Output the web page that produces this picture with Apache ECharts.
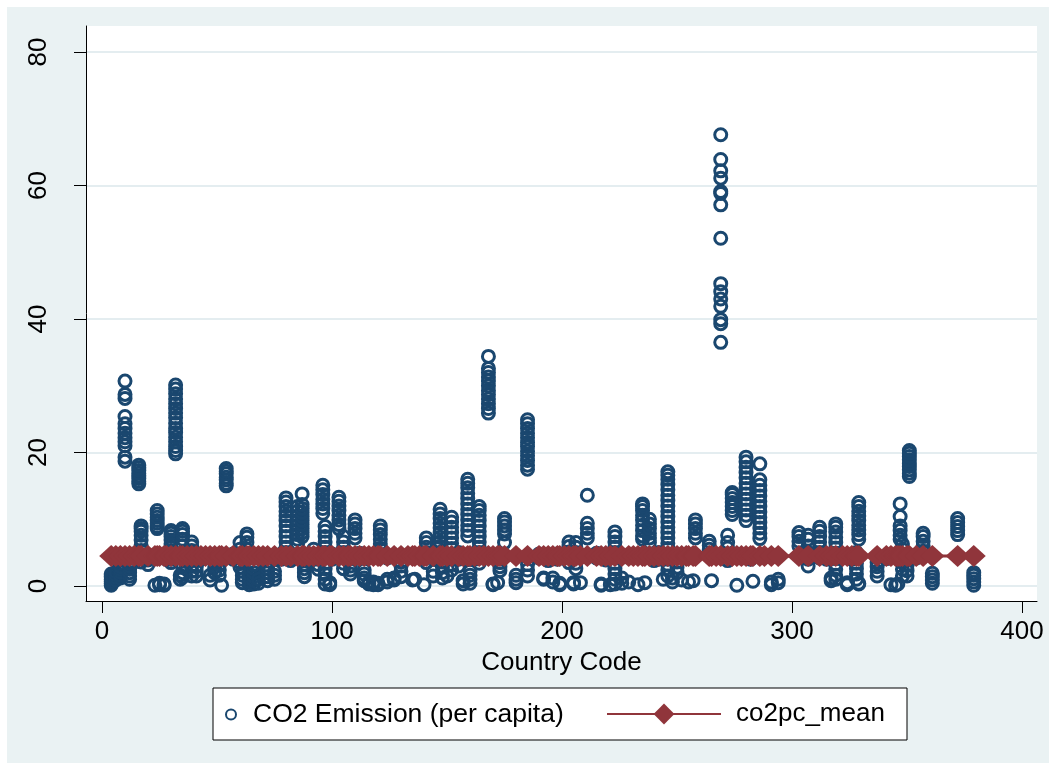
<!DOCTYPE html>
<html>
<head>
<meta charset="utf-8">
<script src="https://cdn.jsdelivr.net/npm/echarts@6/dist/echarts.min.js"></script>
<style>
  html, body { margin: 0; padding: 0; background: #ffffff; }
  #chart {
    width: 1056px; height: 770px;
    background: #EAF2F3;
    box-shadow: inset 0 0 0 7px #ffffff;
  }
</style>
</head>
<body>
<div id="chart"></div>
<script>
// Country codes (x) and the yearly CO2 emission per capita observed for each (y)
const countryCodes = [
  4, 6, 8, 10, 12, 14, 16, 17, 20, 23, 24, 25, 27, 28, 30, 32, 34, 35, 37, 39,
  41, 43, 45, 47, 49, 51, 52, 54, 57, 60, 61, 63, 64, 66, 68, 70, 72, 75, 78, 80,
  82, 85, 87, 88, 90, 92, 94, 96, 97, 99, 100, 103, 105, 107, 108, 110, 112, 114, 116, 118,
  120, 121, 124, 127, 130, 133, 135, 136, 138, 140, 141, 144, 147, 148, 150, 152, 155, 157, 159, 160,
  162, 164, 166, 168, 170, 172, 173, 175, 180, 185, 190, 192, 194, 196, 198, 199, 201, 203, 205, 206,
  208, 211, 215, 217, 219, 221, 223, 226, 229, 231, 233, 235, 236, 238, 240, 242, 244, 246, 248, 250,
  252, 254, 255, 257, 258, 264, 265, 267, 269, 272, 274, 276, 278, 280, 282, 283, 286, 288, 291, 294,
  303, 307, 312, 315, 317, 319, 322, 324, 326, 328, 329, 337, 341, 343, 345, 346, 347, 348, 350, 351,
  354, 357, 361, 372, 379
];

const co2PerCapita = [
  [0.1, 0.4, 0.7, 1.0, 1.4, 1.8],
  [0.9, 1.3, 1.7, 2.1],
  [1.2, 1.6, 2.1, 2.5, 2.9],
  [18.7, 19.3, 21.0, 21.6, 22.2, 22.9, 23.6, 24.3, 25.4, 28.1, 28.7, 30.7],
  [1.0, 1.5, 2.0, 2.5, 3.0, 3.4],
  [3.6, 4.2, 4.8],
  [15.3, 15.7, 16.1, 16.5, 16.9, 17.3, 17.7, 18.1],
  [3.6, 4.4, 5.3, 6.1, 6.9, 7.6, 8.2, 8.6, 9.0],
  [3.2, 3.9, 4.6],
  [0.1],
  [8.6, 8.9, 9.4, 9.8, 10.3, 10.8, 11.3],
  [0.2, 0.4],
  [0.1, 0.3],
  [4.0, 4.8],
  [3.5, 4.0, 4.6, 5.2, 5.8, 6.3, 6.9, 7.4, 7.9, 8.3],
  [19.8, 20.3, 20.9, 21.6, 22.3, 23.0, 23.6, 24.4, 25.2, 25.9, 26.6, 27.3, 28.0, 28.8, 29.5, 30.1],
  [1.0, 1.6],
  [1.3, 2.0, 3.0, 4.0, 5.0, 6.0, 7.0, 7.7, 8.2, 8.6],
  [4.2, 4.9],
  [1.5, 2.2, 3.0, 3.8, 4.6, 5.3, 6.0, 6.6],
  [1.5, 2.2, 2.9],
  [4.0, 4.6],
  [4.3],
  [0.9, 1.6],
  [2.0, 2.8, 3.6],
  [1.6, 2.4, 3.2, 4.0],
  [0.1],
  [15.0, 15.4, 15.9, 16.3, 16.8, 17.2, 17.6],
  [4.0, 4.8],
  [2.8, 3.5, 4.5, 5.5, 6.5],
  [0.5, 1.0, 1.6, 2.2],
  [5.5, 6.5, 7.3, 7.8],
  [0.2, 0.6, 1.2, 1.8],
  [0.3, 0.8, 1.4, 2.0, 2.6, 3.2],
  [0.4, 1.0],
  [3.8, 4.6],
  [0.8, 1.4, 2.0, 2.6, 3.1],
  [1.0, 1.6, 2.2],
  [4.0, 4.8],
  [5.0, 5.8, 6.6, 7.4, 8.2, 9.0, 9.8, 10.5, 11.2, 11.9, 12.6, 13.2],
  [3.8, 4.6],
  [6.3, 7.0, 7.7, 8.4, 9.1, 9.8, 10.5, 11.2, 11.9],
  [7.4, 8.0, 8.6, 9.2, 9.8, 10.4, 11.0, 11.6, 12.2, 13.8],
  [1.4, 2.0, 2.6, 3.2, 3.8],
  [3.8, 4.5],
  [4.0, 4.8, 5.5],
  [2.5, 3.2, 4.0],
  [10.9, 11.6, 12.3, 13.0, 13.7, 14.4, 15.1],
  [0.3, 1.0, 1.8, 2.6, 3.4, 4.2, 5.0, 5.8, 6.6, 7.4, 8.2, 8.9],
  [0.2, 0.5],
  [4.0, 4.8],
  [8.6, 9.2, 9.9, 10.6, 11.3, 12.0, 12.7, 13.3],
  [2.6, 3.4, 4.2, 5.0, 5.8, 6.6, 7.4],
  [4.0, 4.7],
  [1.8, 2.4, 3.0],
  [7.2, 7.9, 8.6, 9.3, 9.9],
  [4.2, 4.9],
  [0.8, 1.2, 1.8, 2.4],
  [0.3, 0.5],
  [0.2, 0.6],
  [0.2, 0.4],
  [5.6, 6.3, 7.0, 7.7, 8.4, 9.0],
  [0.6, 1.0, 4.2],
  [0.9, 1.2],
  [1.4, 2.2, 3.0, 3.6],
  [4.4],
  [0.9],
  [1.0],
  [4.6],
  [0.2],
  [3.5, 4.2, 5.0, 5.8, 6.5, 7.2],
  [1.5, 2.2, 4.2],
  [5.9, 6.6, 7.3, 8.0, 8.7, 9.4, 10.1, 10.8, 11.5],
  [1.2, 2.0, 2.8, 3.6, 4.4, 5.2],
  [1.5, 4.5],
  [2.4, 3.2, 4.0, 4.8, 5.6, 6.4, 7.2, 8.0, 8.8, 9.6, 10.3],
  [3.0, 4.0, 5.0],
  [0.3, 0.8],
  [7.5, 8.3, 9.1, 9.9, 10.7, 11.5, 12.3, 13.1, 13.9, 14.7, 15.4, 16.0],
  [0.4, 1.0, 1.6, 2.2],
  [4.0, 4.6],
  [3.4, 4.2, 5.0, 5.8, 6.6, 7.4, 8.2, 9.0, 9.8, 10.6, 11.3, 11.9],
  [4.2, 4.8],
  [25.9, 26.6, 27.3, 28.0, 28.7, 29.3, 30.0, 30.7, 31.3, 32.0, 32.6, 34.4],
  [0.2, 0.3],
  [0.5],
  [2.3, 2.9, 3.5],
  [6.5, 7.8, 8.4, 9.0, 9.6, 10.1],
  [0.5, 1.0, 1.6],
  [1.5, 2.4, 3.2, 17.5, 18.1, 18.8, 19.5, 20.2, 20.9, 21.5, 22.2, 22.9, 23.6, 24.3, 24.9],
  [4.2, 4.8],
  [1.0, 1.2],
  [3.8, 4.5],
  [0.6, 1.2],
  [4.0, 4.8],
  [0.2, 0.4],
  [4.2],
  [3.5, 4.3, 5.1, 5.9, 6.6],
  [0.3, 0.5],
  [2.6, 3.4, 4.2, 5.0, 5.8, 6.5],
  [0.5],
  [7.2, 7.9, 8.6, 9.4, 13.6],
  [4.2, 4.9],
  [0.1, 0.3],
  [3.9, 4.6],
  [0.2],
  [0.3, 1.0, 1.8, 2.6, 3.4, 4.2, 5.0, 5.8, 6.6, 7.4, 8.1],
  [0.4, 1.2],
  [0.6, 4.3],
  [4.5],
  [0.2],
  [7.0, 7.5, 8.3, 9.1, 9.9, 10.6, 11.3, 11.9, 12.3],
  [0.5],
  [6.5, 7.2, 7.9, 8.6, 9.3, 10.0],
  [3.8, 4.6],
  [4.0, 5.0],
  [1.0],
  [1.5, 2.4, 3.2, 4.0, 4.8, 5.6, 6.4, 7.2, 8.0, 8.8, 9.6, 10.4, 11.2, 12.0, 12.8, 13.6, 14.4, 15.2, 16.0, 16.6, 17.1],
  [0.6, 1.2],
  [2.0, 2.8, 3.6],
  [0.9],
  [4.2],
  [0.6],
  [0.8],
  [7.2, 7.9, 8.6, 9.3, 9.9],
  [5.5, 6.1, 6.7],
  [0.8],
  [4.3],
  [36.5, 39.3, 39.9, 41.9, 43.0, 44.1, 45.3, 52.1, 57.1, 58.8, 59.1, 61.1, 62.2, 63.9, 67.6],
  [3.8, 4.7, 5.7, 6.5, 7.6],
  [10.7, 11.3, 11.9, 12.5, 13.1, 13.7, 14.0],
  [0.1],
  [4.2],
  [9.8, 10.6, 11.4, 12.2, 13.0, 13.8, 14.6, 15.4, 16.2, 17.0, 17.8, 18.6, 19.3],
  [4.0],
  [0.7],
  [7.1, 7.9, 8.7, 9.5, 10.3, 11.1, 11.9, 12.7, 13.5, 14.3, 15.1, 15.9, 18.3],
  [4.4],
  [0.2, 0.6],
  [0.5, 1.0],
  [6.0, 6.7, 7.4, 8.0],
  [3.0, 4.0, 5.0, 6.0, 7.0, 7.6],
  [4.2, 5.0, 5.8, 6.6, 7.4, 8.2, 8.8],
  [4.0],
  [0.8, 1.2],
  [1.0, 1.6, 2.5, 3.3, 4.1, 4.9, 5.7, 6.5, 7.3, 8.1, 8.8, 9.3],
  [4.3],
  [0.2, 0.5],
  [4.0],
  [1.0, 1.8, 2.6, 3.4, 4.2, 5.0],
  [0.3, 0.4, 7.0, 7.7, 8.4, 9.1, 9.8, 10.5, 11.2, 11.9, 12.5],
  [1.5, 2.2, 2.9, 3.5],
  [4.1],
  [0.2],
  [0.1],
  [0.3],
  [7.0, 7.6, 8.3, 9.0, 10.4, 12.3],
  [1.5, 2.5, 3.5, 4.5, 5.5, 6.3],
  [1.5, 2.3, 3.1, 4.0],
  [16.4, 16.9, 17.4, 17.9, 18.4, 18.9, 19.4, 19.9, 20.3],
  [4.2],
  [4.5, 5.2, 6.0, 6.7, 7.4, 7.9],
  [0.4, 0.9, 1.4, 1.9],
  [7.7, 8.3, 8.9, 9.5, 10.1],
  [0.1, 0.6, 1.1, 1.6, 2.0]
];

// Mean CO2 emission per capita, drawn at every country code
const co2pcMean = 4.5;

const xTicks = [0, 100, 200, 300, 400];
const yTicks = [0, 20, 40, 60, 80];

const seriesNames = ['CO2 Emission (per capita)', 'co2pc_mean'];

const NAVY = '#1A476F';
const MAROON = '#90353B';
const FONT = 'Liberation Sans, Arial, Helvetica, sans-serif';

const scatterData = [];
countryCodes.forEach((code, i) => {
  co2PerCapita[i].forEach(v => scatterData.push([code, v]));
});
const meanData = countryCodes.map(code => [code, co2pcMean]);

const chart = echarts.init(document.getElementById('chart'), null, { renderer: 'canvas' });

chart.setOption({
  animation: false,
  backgroundColor: 'transparent',
  textStyle: { fontFamily: FONT },
  grid: {
    left: 86, right: 19, top: 26, bottom: 169,
    show: true, backgroundColor: '#ffffff', borderWidth: 0
  },
  graphic: [{
    type: 'rect',
    shape: { x: 213, y: 688, width: 694, height: 52 },
    style: { fill: '#ffffff', stroke: '#000000', lineWidth: 1 },
    z: 0
  }],
  legend: [{
    data: [{
      name: seriesNames[0],
      icon: 'circle',
      itemStyle: { color: 'rgba(0,0,0,0)', borderColor: NAVY, borderWidth: 2 }
    }],
    left: 225, top: 701, padding: 0,
    itemWidth: 30, itemHeight: 10,
    textStyle: { fontSize: 26.5, color: '#000', fontFamily: FONT, padding: [0, 0, 0, 2] },
    selectedMode: false
  }, {
    data: [seriesNames[1]],
    left: 606, top: 701, padding: 0,
    itemWidth: 114, itemHeight: 26,
    textStyle: { fontSize: 26, color: '#000', fontFamily: FONT, padding: [0, 0, 0, 10] },
    selectedMode: false
  }],
  xAxis: {
    type: 'value',
    min: -6.96, max: 406.5,
    name: 'Country Code',
    nameLocation: 'middle',
    nameGap: 46,
    nameTextStyle: { fontSize: 26, color: '#000', fontFamily: FONT },
    axisLine: { show: true, onZero: false, lineStyle: { color: '#000', width: 1 } },
    axisTick: { show: true, length: 12, customValues: xTicks, lineStyle: { color: '#000', width: 1 } },
    axisLabel: { customValues: xTicks, margin: 18, fontSize: 26, color: '#000', fontFamily: FONT },
    splitLine: { show: false }
  },
  yAxis: {
    type: 'value',
    min: -2.25, max: 83.9,
    axisLine: { show: true, onZero: false, lineStyle: { color: '#000', width: 1 } },
    axisTick: { show: true, length: 12, customValues: yTicks, lineStyle: { color: '#000', width: 1 } },
    axisLabel: { customValues: yTicks, rotate: 90, margin: 34, fontSize: 26, color: '#000', fontFamily: FONT },
    splitLine: { show: true, lineStyle: { color: '#E4EDF0', width: 2 } }
  },
  series: [{
    name: seriesNames[0],
    type: 'scatter',
    data: scatterData,
    symbol: 'circle',
    symbolSize: 12,
    itemStyle: { color: 'rgba(0,0,0,0)', borderColor: NAVY, borderWidth: 3, opacity: 1 },
    emphasis: { disabled: true },
    z: 2
  }, {
    name: seriesNames[1],
    type: 'line',
    data: meanData,
    symbol: 'diamond',
    symbolSize: [24, 22],
    showAllSymbol: true,
    lineStyle: { color: MAROON, width: 3 },
    itemStyle: { color: MAROON },
    emphasis: { disabled: true },
    z: 3
  }]
});
</script>
</body>
</html>
